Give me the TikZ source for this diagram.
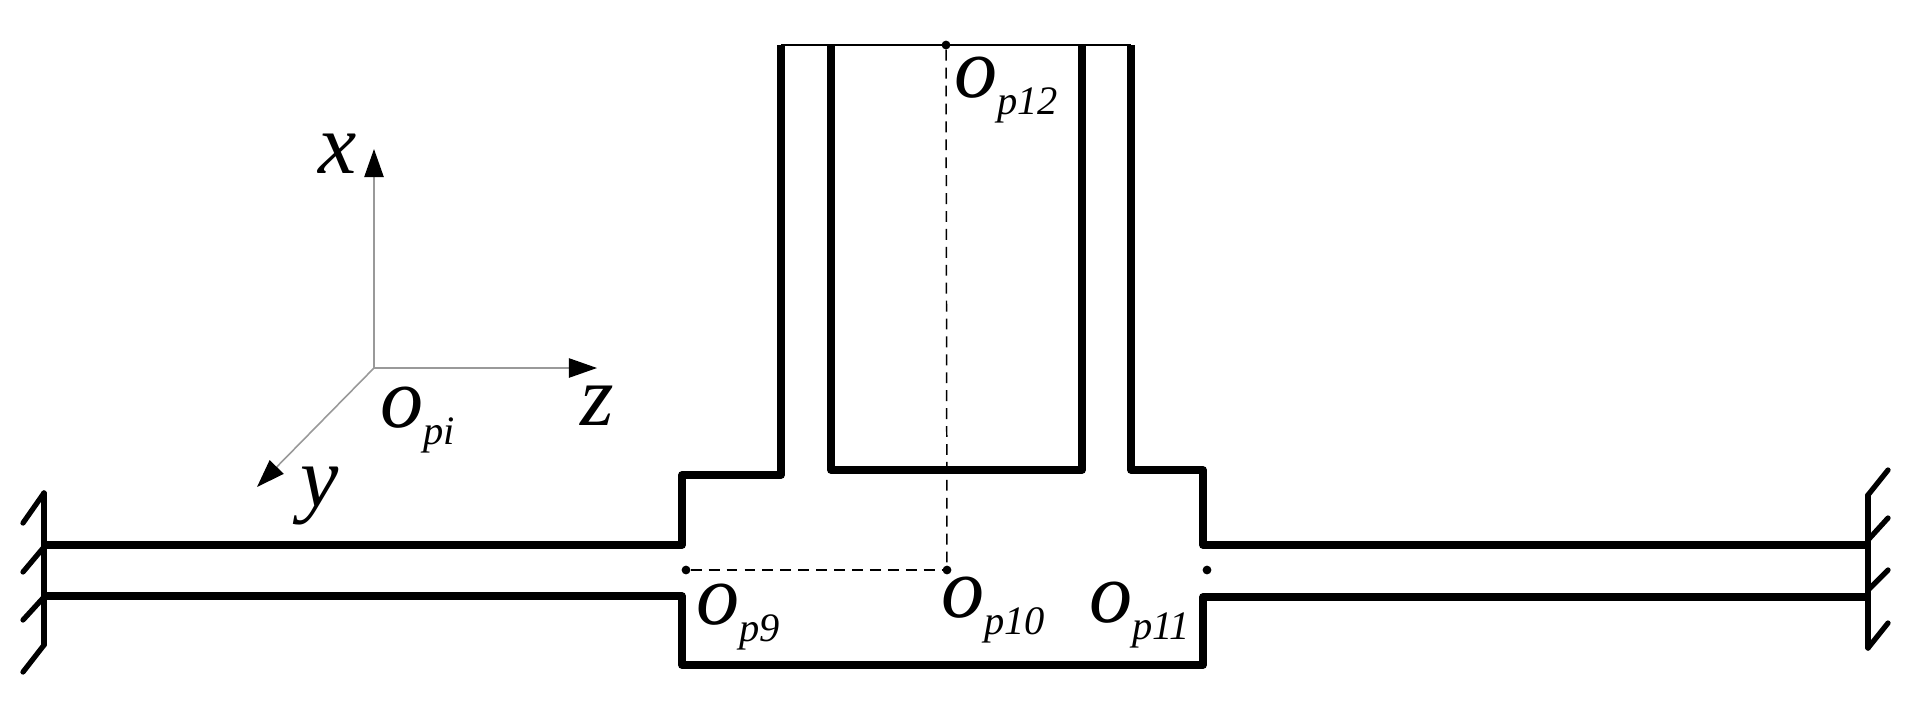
\documentclass[tikz,border=0pt]{standalone}
\usepackage{fontspec}
\setmainfont{Liberation Serif}
\usetikzlibrary{arrows.meta}
\newcommand{\bigLetter}[1]{{\fontsize{49}{49}\selectfont\itshape #1}}
\newcommand{\opLabel}[1]{\bigLetter{o}\raisebox{-10pt}{\fontsize{23}{23}\selectfont\itshape #1}}
\begin{document}
\begin{tikzpicture}
[x=0.02cm,y=-0.02cm,%
  wallLine/.style={line width=4.3pt,line join=round},%
  hatchLine/.style={line width=3pt,line cap=round},%
  thinLine/.style={line width=1pt},%
  dashLine/.style={line width=0.85pt,dash pattern=on 6.2pt off 4pt},%
  axisArrow/.style={-{Stealth[black,inset=0pt,length=16pt,width=11pt]},line width=0.9pt,color=gray!80},%
  pointDot/.style={shape=circle,fill=black,inner sep=0pt,minimum size=5pt},%
  letterText/.style={anchor=base west,inner sep=0pt}]
\useasboundingbox (0,0) rectangle (1914,707);
%% corners of the outline
\foreach \nodename/\x/\y in {a1/44/545, a2/682/545, a3/682/475, a4/781/475, a5/781/45,
  b1/44/596, b2/682/596, b3/682/665, b4/1203/665, b5/1203/597, b6/1868/597,
  c1/831/45, c2/831/470, c3/1082/470, c4/1082/45,
  d1/1868/545, d2/1203/545, d3/1203/470, d4/1131/470, d5/1131/45}
{
  \coordinate (\nodename) at (\x,\y);
}
%% ends of the fixed walls and their hatching
\foreach \nodename/\x/\y in {w1/44/493, w2/44/645, h1/23/523, h2/23/572, h3/23/620, h4/23/672,
  m1/44/547, m2/44/597, v1/1868/495, v2/1868/648, k1/1888/470, k2/1888/518, k3/1888/570,
  k4/1888/623, n1/1868/540, n2/1868/590}
{
  \coordinate (\nodename) at (\x,\y);
}
%% axes
\foreach \nodename/\x/\y in {origin/374/368, xTip/374/149, yTip/257/487, zTip/597/368}
{
  \coordinate (\nodename) at (\x,\y);
}
%% points on the centre lines
\foreach \nodename/\x/\y in {p9/686/570, p10/947/570, p11/1207/570, p12/946/45}
{
  \node (\nodename) at (\x,\y) [pointDot] {};
}
%% outline
\draw[wallLine] (a1) -- (a2) -- (a3) -- (a4) -- (a5);
\draw[wallLine] (b1) -- (b2) -- (b3) -- (b4) -- (b5) -- (b6);
\draw[wallLine] (c1) -- (c2) -- (c3) -- (c4);
\draw[wallLine] (d1) -- (d2) -- (d3) -- (d4) -- (d5);
%% walls
\draw[hatchLine] (w1) -- (w2);
\draw[hatchLine] (v1) -- (v2);
\foreach \startnode/\endnode in {w1/h1, m1/h2, m2/h3, w2/h4, v1/k1, n1/k2, n2/k3, v2/k4}
{
  \draw[hatchLine] (\startnode) -- (\endnode);
}
%% thin lines
\draw[thinLine] (a5) -- (d5);
\draw[dashLine] (p12) -- (p10);
\draw[dashLine] (p9) -- (p10);
\foreach \endnode in {xTip, yTip, zTip}
{
  \draw[axisArrow] (origin) -- (\endnode);
}
%% labels
\foreach \nodename/\x/\y/\textname in {xLabel/318/173/x, yLabel/300/506/y, zLabel/580/425/z}
{
  \node (\nodename) at (\x,\y) [letterText] {\bigLetter{\textname}};
}
\foreach \nodename/\x/\y/\textname in {opiLabel/380/427/pi, ninLabel/696/624/p9,
  tenLabel/941/617/p10, eleLabel/1089/622/p11, tweLabel/954/97/p12}
{
  \node (\nodename) at (\x,\y) [letterText] {\opLabel{\textname}};
}
\end{tikzpicture}
\end{document}
